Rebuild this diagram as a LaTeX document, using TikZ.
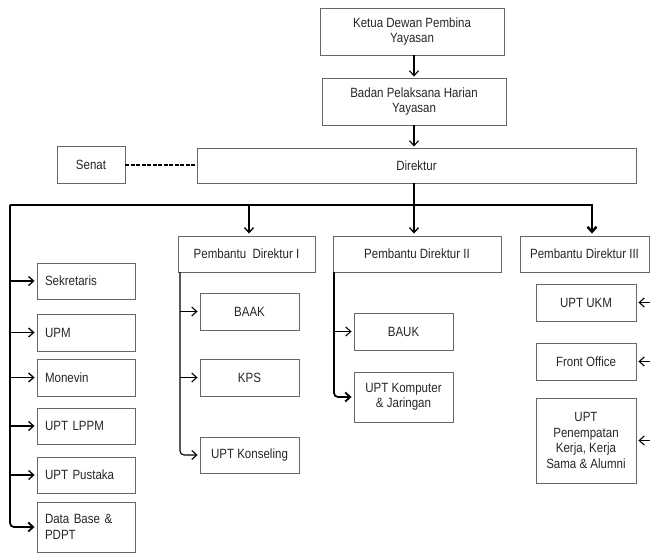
\documentclass[tikz,border=0pt]{standalone}
\usepackage{fontspec}
\setmainfont[FakeStretch=0.86]{Liberation Sans}
\usetikzlibrary{arrows.meta}
\begin{document}
\begin{tikzpicture}[x=1pt,y=-1pt,
  box/.style={draw=black!60, line width=0.9pt, rectangle, inner sep=0pt, align=center,
    font=\fontsize{13.4}{15.5}\selectfont, text=black!85},
  lbox/.style={box, align=left, text width=82pt, inner xsep=8pt, minimum width=98, anchor=center},
  arr/.style={-{Straight Barb[length=5pt,width=9pt]}, line width=1.3pt, shorten >=2pt},
  thin arr/.style={-{Straight Barb[length=5pt,width=9pt]}, line width=1.1pt},
  busline/.style={line width=2.4pt},
  dashline/.style={line width=2.2pt, dash pattern=on 4pt off 1.5pt}]
\useasboundingbox (0,0) rectangle (650,553);
% top
\node[box, minimum width=184, minimum height=47] (ketua) at (412,31.5) {Ketua Dewan Pembina\\Yayasan};
\node[box, minimum width=184, minimum height=47] (badan) at (414,101.5) {Badan Pelaksana Harian\\Yayasan};
\node[box, minimum width=439, minimum height=35] (direktur) at (416.5,165.5) {Direktur};
\node[box, minimum width=68, minimum height=37] (senat) at (91,165) {Senat};
% pembantu direktur
\node[box, minimum width=137, minimum height=36] (pd1) at (246.5,254) {Pembantu\ \ Direktur I};
\node[box, minimum width=168, minimum height=36] (pd2) at (417,254) {Pembantu Direktur II};
\node[box, minimum width=129, minimum height=36] (pd3) at (584.5,254) {Pembantu Direktur III};
% left column
\node[lbox, minimum height=36] (sek) at (86,281) {Sekretaris};
\node[lbox, minimum height=37] (upm) at (86,332.5) {UPM};
\node[lbox, minimum height=37] (monevin) at (86,377.5) {Monevin};
\node[lbox, minimum height=36] (lppm) at (86,426) {UPT LPPM};
\node[lbox, minimum height=36] (pustaka) at (86,475) {UPT Pustaka};
\node[lbox, minimum height=50] (database) at (86,527) {Data Base \&\\PDPT};
% PD I
\node[box, minimum width=99, minimum height=37] (baak) at (249.5,311.5) {BAAK};
\node[box, minimum width=99, minimum height=37] (kps) at (249.5,377.5) {KPS};
\node[box, minimum width=99, minimum height=36] (konseling) at (249.5,455) {UPT Konseling};
% PD II
\node[box, minimum width=99, minimum height=37] (bauk) at (403.5,331.5) {BAUK};
\node[box, minimum width=99, minimum height=50] (komputer) at (403.5,397) {UPT Komputer\\\& Jaringan};
% PD III
\node[box, minimum width=100, minimum height=37] (ukm) at (586,302.5) {UPT UKM};
\node[box, minimum width=100, minimum height=37] (front) at (586,361.5) {Front Office};
\node[box, minimum width=100, minimum height=85] (penempatan) at (586,440.5) {UPT\\Penempatan\\Kerja, Kerja\\Sama \& Alumni};
% coordinates
\coordinate (bj) at (414,205);
\coordinate (bl) at (10,205);
\coordinate (br) at (592,205);
\coordinate (b1) at (249,205);
\coordinate (p1) at (180,272);
\coordinate (p2) at (334,272);
\coordinate (rr) at (653,300);
% connectors top
\draw[thin arr, shorten >=1pt] (ketua.south -| badan.south) -- (badan.north);
\draw[thin arr, shorten >=1pt] (badan.south) -- (badan.south |- direktur.north);
\draw[dashline] (senat.east) -- (senat.east -| direktur.west);
\draw[line width=1.3pt] (direktur.south -| bj) -- (bj);
\draw[arr] (bj) -- (bj |- pd2.north);
\draw[busline, -{Straight Barb[length=5pt,width=9pt]}, shorten >=2pt] (bl) -- (br) -- (br |- pd3.north);
\draw[line width=1.3pt, {Straight Barb[length=5pt,width=9pt]}-, shorten <=2pt] (b1 |- pd1.north) -- (b1);
% left column
\draw[arr, line width=1.8pt, rounded corners=4pt] (bl) -- (bl |- database.west) -- (database.west);
\foreach \n in {sek,upm,monevin,lppm,pustaka}
  \draw[arr] (bl |- \n.west) -- (\n.west);
% PD I
\draw[arr, line width=1.1pt, rounded corners=4pt] (p1) -- (p1 |- konseling.west) -- (konseling.west);
\foreach \n in {baak,kps}
  \draw[arr, line width=1.1pt] (p1 |- \n.west) -- (\n.west);
% PD II
\draw[arr, line width=1.8pt, rounded corners=4pt] (p2) -- (p2 |- komputer.west) -- (komputer.west);
\draw[arr, line width=1.1pt] (p2 |- bauk.west) -- (bauk.west);
% PD III
\foreach \n in {ukm,front,penempatan}
  \draw[arr, line width=1.1pt] (rr |- \n.east) -- (\n.east);
\end{tikzpicture}
\end{document}
